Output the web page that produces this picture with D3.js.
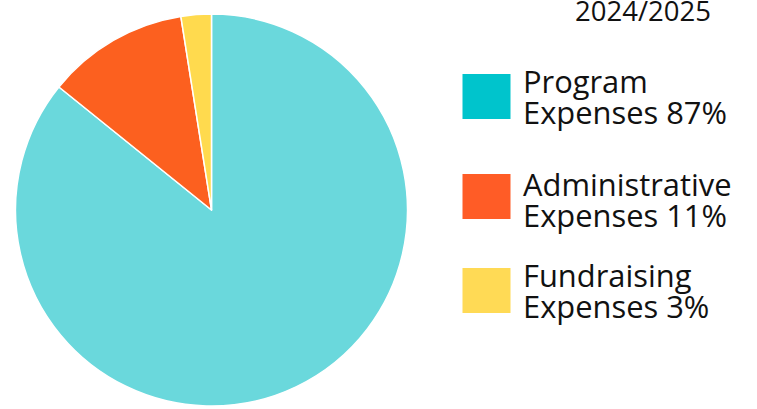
<!DOCTYPE html>
<html>
<head>
<meta charset="utf-8">
<script src="https://cdn.jsdelivr.net/npm/d3@7"></script>
<style>
  html, body { margin: 0; padding: 0; background: #fff; }
  svg { display: block; }
  text { font-family: "Open Sans", "Noto Sans", sans-serif; fill: #111; }
</style>
</head>
<body>
<svg id="chart" width="757" height="409"></svg>
<script>
// ---- data ----
const categories = ["Program Expenses", "Administrative Expenses", "Fundraising Expenses"];
const values = [85.8, 11.7, 2.5];
const legendLine1 = ["Program", "Administrative", "Fundraising"];
const legendLine2 = ["Expenses 87%", "Expenses 11%", "Expenses 3%"];
const title = "2024/2025";
const sliceColors = ["#6AD8DC", "#FC601F", "#FFDA4E"];
const swatchColors = ["#00C4CC", "#FF5C26", "#FFDA55"];

const svg = d3.select("#chart");
const cx = 211.5, cy = 210, r = 196;

const pie = d3.pie().sort(null).value(d => d)(values);
const arc = d3.arc().innerRadius(0).outerRadius(r);

svg.append("g").attr("transform", `translate(${cx},${cy})`)
  .selectAll("path").data(pie).join("path")
  .attr("d", arc)
  .attr("fill", (d, i) => sliceColors[i])
  .attr("stroke", "#fff")
  .attr("stroke-width", 1.5)
  .attr("stroke-linejoin", "round");

// fit font sizes
function fitSize(str, targetW) {
  const t = svg.append("text").attr("font-size", 100).text(str);
  const w = t.node().getComputedTextLength();
  t.remove();
  return 100 * targetW / w;
}
const fs = fitSize("Expenses 87%", 204);
const tfs = fitSize(title, 136);

svg.append("text")
  .attr("x", 575).attr("y", 20.5)
  .attr("font-size", tfs)
  .text(title);

const legendTop = [74, 174, 268];
const textTop = [71, 174, 265];
const lg = svg.append("g");
categories.forEach((c, i) => {
  lg.append("rect")
    .attr("x", 462.5).attr("y", legendTop[i])
    .attr("width", 48).attr("height", 45)
    .attr("fill", swatchColors[i]);
  const base = textTop[i] + fs * 0.72;
  lg.append("text").attr("x", 523).attr("y", base)
    .attr("font-size", fs).text(legendLine1[i]);
  lg.append("text").attr("x", 523).attr("y", base + 30.5)
    .attr("font-size", fs).text(legendLine2[i]);
});
</script>
</body>
</html>
